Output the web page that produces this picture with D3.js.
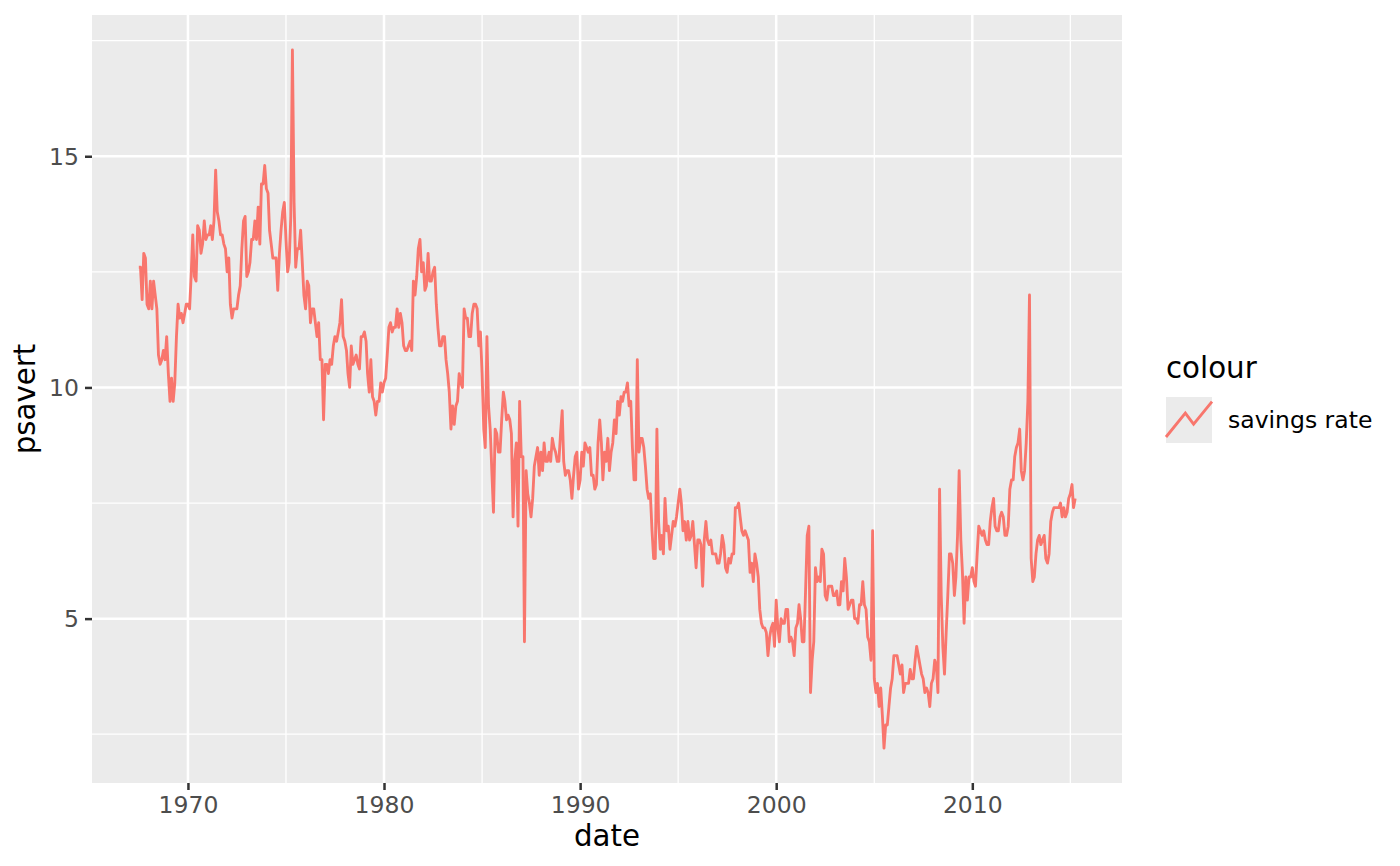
<!DOCTYPE html>
<html>
<head>
    <meta charset="utf-8">
    <script src="https://cdn.jsdelivr.net/npm/d3@7/dist/d3.min.js" type="text/javascript"></script>
    <style>
        body { margin: 0; background: #fff; }
        text { font-family: "DejaVu Sans", sans-serif; }
    </style>
</head>
<body>
    <div id="viz"></div>
    <script type="text/javascript">

    // personal savings rate, monthly, first value is July 1967
    var startYear = 1967, startMonth = 6;
    var psavert = [
        12.6, 12.6, 11.9, 12.9, 12.8, 11.8,                               // 1967
        11.7, 12.3, 11.7, 12.3, 12.0, 11.7, 10.7, 10.5, 10.6, 10.8, 10.6, 11.1, // 1968
        10.3, 9.7, 10.2, 9.7, 10.1, 11.1, 11.8, 11.5, 11.6, 11.4, 11.6, 11.8,  // 1969
        11.8, 11.7, 12.4, 13.3, 12.4, 12.3, 13.5, 13.4, 12.9, 13.1, 13.6, 13.2, // 1970
        13.3, 13.3, 13.5, 13.2, 13.6, 14.7, 13.8, 13.6, 13.3, 13.3, 13.1, 13.0, // 1971
        12.5, 12.8, 11.8, 11.5, 11.7, 11.7, 11.7, 12.0, 12.2, 13.0, 13.6, 13.7, // 1972
        12.4, 12.5, 12.7, 13.2, 13.2, 13.6, 13.2, 13.9, 13.1, 14.4, 14.4, 14.8, // 1973
        14.3, 14.2, 13.4, 13.1, 12.8, 12.8, 12.8, 12.1, 12.9, 13.4, 13.8, 14.0, // 1974
        13.2, 12.5, 12.7, 13.7, 17.3, 14.0, 12.6, 13.0, 13.0, 13.4, 12.7, 12.0, // 1975
        11.7, 12.3, 12.2, 11.4, 11.7, 11.7, 11.4, 11.1, 11.4, 10.6, 10.6, 9.3,  // 1976
        10.5, 10.5, 10.3, 10.6, 10.5, 10.9, 11.1, 11.0, 11.2, 11.4, 11.9, 11.1, // 1977
        11.0, 10.8, 10.3, 10.0, 10.9, 10.5, 10.6, 10.7, 10.5, 10.4, 11.1, 11.1, // 1978
        11.2, 11.0, 10.3, 9.9, 10.6, 9.8, 9.7, 9.4, 9.7, 9.7, 10.1, 9.9,       // 1979
        10.1, 10.2, 10.7, 11.3, 11.4, 11.2, 11.3, 11.3, 11.7, 11.3, 11.6, 11.4, // 1980
        10.9, 10.8, 10.8, 10.9, 11.0, 10.8, 12.3, 12.0, 12.4, 13.0, 13.2, 12.5, // 1981
        12.7, 12.1, 12.2, 12.9, 12.3, 12.3, 12.5, 12.6, 11.8, 11.3, 10.9, 10.9, // 1982
        11.1, 11.1, 10.6, 10.3, 9.9, 9.1, 9.6, 9.2, 9.6, 9.7, 10.3, 10.1,      // 1983
        10.0, 11.7, 11.5, 11.5, 11.1, 11.1, 11.6, 11.8, 11.8, 11.7, 10.9, 11.2, // 1984
        10.3, 9.1, 8.7, 11.1, 9.6, 9.1, 8.2, 7.3, 9.1, 9.0, 8.6, 8.6,          // 1985
        9.3, 9.9, 9.7, 9.3, 9.4, 9.3, 9.0, 7.2, 8.4, 8.8, 7.0, 9.7,            // 1986
        8.5, 8.5, 4.5, 8.2, 7.7, 7.5, 7.2, 7.6, 8.3, 8.5, 8.7, 8.1,            // 1987
        8.6, 8.2, 8.8, 8.4, 8.4, 8.6, 8.4, 8.9, 8.7, 8.6, 8.4, 8.4,            // 1988
        9.0, 9.5, 8.4, 8.1, 8.2, 8.2, 8.0, 7.6, 8.1, 8.5, 8.6, 7.8,            // 1989
        8.0, 8.6, 8.3, 8.8, 8.7, 8.6, 8.7, 8.1, 8.1, 7.8, 7.9, 8.8,            // 1990
        9.3, 8.8, 8.0, 8.6, 8.4, 8.9, 8.2, 8.6, 8.8, 9.3, 9.0, 9.7,            // 1991
        9.4, 9.8, 9.7, 9.9, 9.9, 10.1, 9.6, 9.7, 8.7, 8.0, 8.0, 10.6,          // 1992
        8.6, 8.9, 8.9, 8.7, 8.3, 7.8, 7.6, 7.7, 6.9, 6.3, 6.3, 9.1,            // 1993
        7.1, 6.5, 6.8, 6.4, 7.6, 6.9, 7.0, 6.5, 6.8, 7.1, 7.0, 7.2,            // 1994
        7.5, 7.8, 7.5, 6.9, 7.1, 6.7, 7.1, 6.7, 6.8, 7.1, 6.6, 6.1,            // 1995
        6.7, 6.7, 6.6, 5.7, 6.7, 7.1, 6.7, 6.6, 6.7, 6.4, 6.4, 6.4,            // 1996
        6.2, 6.2, 6.4, 6.8, 6.6, 6.1, 6.0, 6.3, 6.2, 6.4, 6.4, 7.4,            // 1997
        7.4, 7.5, 7.2, 6.9, 6.8, 6.9, 6.8, 6.7, 6.0, 6.2, 5.8, 6.4,            // 1998
        6.2, 5.9, 5.2, 4.9, 4.8, 4.8, 4.7, 4.2, 4.6, 4.8, 4.9, 4.4,            // 1999
        5.4, 4.8, 4.5, 5.0, 4.9, 4.9, 5.2, 5.2, 4.5, 4.6, 4.5, 4.2,            // 2000
        4.8, 4.9, 5.3, 5.0, 4.5, 4.5, 5.6, 6.8, 7.0, 3.4, 4.1, 4.5,            // 2001
        6.1, 5.8, 5.9, 5.8, 6.5, 6.4, 5.5, 5.4, 5.7, 5.7, 5.7, 5.5,            // 2002
        5.5, 5.6, 5.3, 5.3, 5.8, 5.6, 6.3, 5.9, 5.2, 5.3, 5.4, 5.4,            // 2003
        5.0, 5.0, 4.9, 5.3, 5.3, 5.8, 5.3, 5.2, 4.6, 4.5, 4.1, 6.9,            // 2004
        3.7, 3.4, 3.6, 3.1, 3.5, 2.9, 2.2, 2.7, 2.7, 3.1, 3.5, 3.7,            // 2005
        4.2, 4.2, 4.2, 4.0, 3.8, 4.0, 3.4, 3.6, 3.6, 3.6, 3.9, 3.7,            // 2006
        3.7, 4.1, 4.4, 4.2, 4.0, 3.8, 3.7, 3.4, 3.5, 3.4, 3.1, 3.6,            // 2007
        3.7, 4.1, 4.0, 3.4, 7.8, 5.5, 4.4, 3.8, 4.7, 5.5, 6.4, 6.4,            // 2008
        6.2, 5.5, 5.9, 6.8, 8.2, 6.7, 6.0, 4.9, 5.9, 5.4, 5.9, 5.9,            // 2009
        6.1, 5.8, 5.7, 6.4, 7.0, 6.9, 6.8, 6.9, 6.7, 6.6, 6.6, 7.1,            // 2010
        7.4, 7.6, 7.0, 6.9, 6.9, 7.2, 7.3, 7.2, 6.8, 6.8, 7.0, 7.8,            // 2011
        8.0, 8.0, 8.5, 8.7, 8.8, 9.1, 8.2, 8.0, 8.2, 8.8, 9.7, 12.0,           // 2012
        6.3, 5.8, 5.9, 6.4, 6.7, 6.8, 6.6, 6.7, 6.8, 6.3, 6.2, 6.4,            // 2013
        7.1, 7.3, 7.4, 7.4, 7.4, 7.4, 7.5, 7.2, 7.4, 7.2, 7.3, 7.6,            // 2014
        7.7, 7.9, 7.4, 7.6                                                     // 2015
    ];

    var xTicks = [1970, 1980, 1990, 2000, 2010];
    var xMinor = [1975, 1985, 1995, 2005, 2015];
    var yTicks = [5, 10, 15];
    var yMinor = [2.5, 7.5, 12.5, 17.5];
    var seriesName = "savings rate";
    var legendTitle = "colour";

    var width = 1400, height = 866;
    var panel = {left: 92, right: 1122, top: 15, bottom: 783};
    var lineColor = "#F8766D";

    var data = psavert.map(function(v, i) {
        return {date: new Date(Date.UTC(startYear, startMonth + i, 1)), value: v};
    });

    var svg = d3.select("#viz")
        .append("svg")
        .attr("width", width)
        .attr("height", height);

    // ggplot style 5% expansion
    var xExt = d3.extent(data, function(d) { return +d.date; });
    var xPad = (xExt[1] - xExt[0]) * 0.05;
    var x = d3.scaleUtc()
        .domain([new Date(xExt[0] - xPad), new Date(xExt[1] + xPad)])
        .range([panel.left, panel.right]);

    var yExt = d3.extent(data, function(d) { return d.value; });
    var yPad = (yExt[1] - yExt[0]) * 0.05;
    var y = d3.scaleLinear()
        .domain([yExt[0] - yPad, yExt[1] + yPad])
        .range([panel.bottom, panel.top]);

    function yr(year) { return new Date(Date.UTC(year, 0, 1)); }

    svg.append("rect")
        .attr("x", panel.left).attr("y", panel.top)
        .attr("width", panel.right - panel.left)
        .attr("height", panel.bottom - panel.top)
        .attr("fill", "#EBEBEB");

    var grid = svg.append("g").attr("stroke", "#fff").attr("fill", "none");

    grid.selectAll(".ymin").data(yMinor).enter().append("line")
        .attr("x1", panel.left).attr("x2", panel.right)
        .attr("y1", function(d) { return y(d); }).attr("y2", function(d) { return y(d); })
        .attr("stroke-width", 1.3);
    grid.selectAll(".xmin").data(xMinor.filter(function(d) { return yr(d) <= x.domain()[1]; }))
        .enter().append("line")
        .attr("y1", panel.top).attr("y2", panel.bottom)
        .attr("x1", function(d) { return x(yr(d)); }).attr("x2", function(d) { return x(yr(d)); })
        .attr("stroke-width", 1.3);
    grid.selectAll(".ymaj").data(yTicks).enter().append("line")
        .attr("x1", panel.left).attr("x2", panel.right)
        .attr("y1", function(d) { return y(d); }).attr("y2", function(d) { return y(d); })
        .attr("stroke-width", 2.5);
    grid.selectAll(".xmaj").data(xTicks).enter().append("line")
        .attr("y1", panel.top).attr("y2", panel.bottom)
        .attr("x1", function(d) { return x(yr(d)); }).attr("x2", function(d) { return x(yr(d)); })
        .attr("stroke-width", 2.5);

    var line = d3.line()
        .x(function(d) { return x(d.date); })
        .y(function(d) { return y(d.value); });

    svg.append("path")
        .datum(data)
        .attr("d", line)
        .attr("fill", "none")
        .attr("stroke", lineColor)
        .attr("stroke-width", 2.85)
        .attr("stroke-linejoin", "round");

    // axes
    var xAxis = d3.axisBottom(x)
        .tickValues(xTicks.map(yr))
        .tickFormat(d3.utcFormat("%Y"))
        .tickSize(7)
        .tickPadding(6);
    var gx = svg.append("g")
        .attr("transform", "translate(0," + panel.bottom + ")")
        .call(xAxis);

    var yAxis = d3.axisLeft(y)
        .tickValues(yTicks)
        .tickSize(7)
        .tickPadding(6);
    var gy = svg.append("g")
        .attr("transform", "translate(" + panel.left + ",0)")
        .call(yAxis);

    [gx, gy].forEach(function(g) {
        g.select(".domain").remove();
        g.selectAll(".tick line").attr("stroke", "#333333").attr("stroke-width", 2.5);
        g.selectAll(".tick text")
            .attr("fill", "#4D4D4D")
            .style("font-size", "23.5px");
    });
    gx.selectAll(".tick text").attr("dy", "0.71em");
    gy.selectAll(".tick text").attr("dy", "0.35em");

    svg.append("text")
        .attr("x", (panel.left + panel.right) / 2)
        .attr("y", 846)
        .attr("text-anchor", "middle")
        .style("font-size", "29.3px")
        .text("date");

    svg.append("text")
        .attr("transform", "translate(35," + ((panel.top + panel.bottom) / 2) + ") rotate(-90)")
        .attr("text-anchor", "middle")
        .style("font-size", "29.3px")
        .text("psavert");

    // legend
    var lg = svg.append("g");
    lg.append("text")
        .attr("x", 1166).attr("y", 378)
        .style("font-size", "29.3px")
        .text(legendTitle);
    lg.append("rect")
        .attr("x", 1166).attr("y", 397)
        .attr("width", 46).attr("height", 46)
        .attr("fill", "#EBEBEB");
    var keyX = d3.scaleLinear().domain([0, 1]).range([1166, 1212]);
    var keyY = d3.scaleLinear().domain([0, 1]).range([443, 397]);
    var keyPts = [[0, 0.13], [0.42, 0.65], [0.6, 0.41], [1, 0.9]];
    lg.append("path")
        .attr("d", d3.line().x(function(d) { return keyX(d[0]); }).y(function(d) { return keyY(d[1]); })(keyPts))
        .attr("fill", "none")
        .attr("stroke", lineColor)
        .attr("stroke-width", 2.85);
    lg.append("text")
        .attr("x", 1228).attr("y", 428)
        .style("font-size", "23.5px")
        .text(seriesName);

    </script>
</body>
</html>
